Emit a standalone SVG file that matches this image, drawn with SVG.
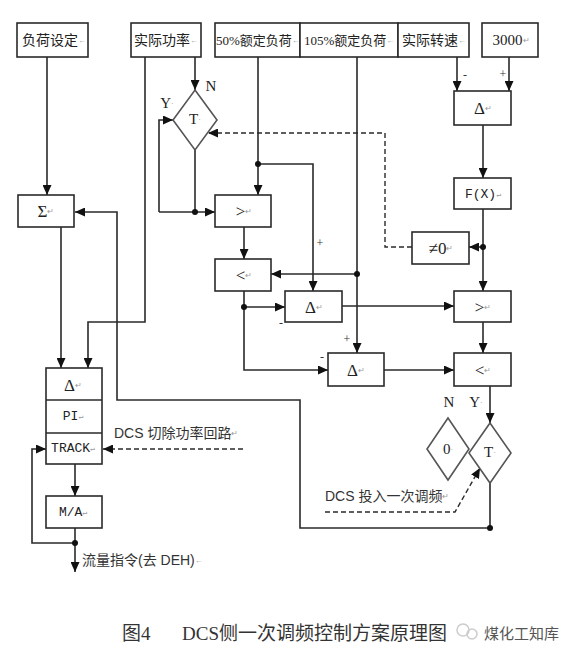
<svg xmlns="http://www.w3.org/2000/svg" width="562" height="657" viewBox="0 0 562 657">
<style>
.box{fill:#fff;stroke:#2a2a2a;stroke-width:1.6}
.dia{fill:#fff;stroke:#555;stroke-width:1.6}
.ln{fill:none;stroke:#2a2a2a;stroke-width:1.6}
.dash{fill:none;stroke:#2a2a2a;stroke-width:1.4;stroke-dasharray:5 3}
.dot{fill:#111}
.t{font-family:"Liberation Serif","Noto Sans CJK SC",serif;font-size:15px;fill:#222;text-anchor:middle;dominant-baseline:central}
.g{font-size:17px}
.h{font-family:"Liberation Serif","Noto Sans CJK SC",serif;font-size:14px;fill:#222;dominant-baseline:central}
.h13{font-size:13px}
.m{font-family:"Liberation Mono",monospace;font-size:13px;fill:#222;text-anchor:middle;dominant-baseline:central}
.c{font-family:"Liberation Sans","Noto Sans CJK SC",sans-serif;font-size:14px;fill:#333;dominant-baseline:central}
.s{font-family:"Liberation Serif",serif;font-size:12px;fill:#333;text-anchor:middle;dominant-baseline:central}
.rm{fill:#999;font-size:8px}
.cap{font-family:"Liberation Serif","Noto Sans CJK SC",serif;font-size:19px;fill:#333;dominant-baseline:central}
</style>
<defs>
<marker id="ah" markerUnits="userSpaceOnUse" markerWidth="10" markerHeight="9" refX="10" refY="4.5" orient="auto">
<path d="M0,0 L10,4.5 L0,9 z" fill="#111"/>
</marker>
</defs>

<g id="connectors">
<path class="ln" d="M47,57 V195" marker-end="url(#ah)"/>
<path class="ln" d="M145,57 V322 H88 V368" marker-end="url(#ah)"/>
<path class="ln" d="M195,57 V90" marker-end="url(#ah)"/>
<path class="ln" d="M258,57 V195" marker-end="url(#ah)"/>
<path class="ln" d="M258,164 H313 V291" marker-end="url(#ah)"/>
<path class="ln" d="M357,57 V353" marker-end="url(#ah)"/>
<path class="ln" d="M357,274 H271" marker-end="url(#ah)"/>
<path class="ln" d="M457,57 V91" marker-end="url(#ah)"/>
<path class="ln" d="M509,57 V91" marker-end="url(#ah)"/>
<path class="ln" d="M483,125 V178" marker-end="url(#ah)"/>
<path class="ln" d="M483,209 V291" marker-end="url(#ah)"/>
<path class="ln" d="M483,247 H469" marker-end="url(#ah)"/>
<path class="dash" d="M412,247 H385 V133 H208" marker-end="url(#ah)"/>
<path class="ln" d="M195,150 V212"/>
<path class="ln" d="M159,212 H215" marker-end="url(#ah)"/>
<path class="ln" d="M159,212 V120 H173" marker-end="url(#ah)"/>
<path class="ln" d="M244,227 V259" marker-end="url(#ah)"/>
<path class="ln" d="M244,291 V370 H328" marker-end="url(#ah)"/>
<path class="ln" d="M244,307 H285" marker-end="url(#ah)"/>
<path class="ln" d="M342,306 H454" marker-end="url(#ah)"/>
<path class="ln" d="M384,370 H454" marker-end="url(#ah)"/>
<path class="ln" d="M483,322 V353" marker-end="url(#ah)"/>
<path class="ln" d="M490,386 V423" marker-end="url(#ah)"/>
<path class="ln" d="M490,483 V528 H300 V400 H117 V212 H75" marker-end="url(#ah)"/>
<path class="ln" d="M61,227 V368" marker-end="url(#ah)"/>
<path class="ln" d="M75,464 V496" marker-end="url(#ah)"/>
<path class="ln" d="M75,528 V572" marker-end="url(#ah)"/>
<path class="ln" d="M75,543 H32 V449 H46" marker-end="url(#ah)"/>
<path class="dash" d="M243,449 H103" marker-end="url(#ah)"/>
<path class="dash" d="M325,512 H455 L480,468" marker-end="url(#ah)"/>
<circle class="dot" cx="258" cy="164" r="3"/>
<circle class="dot" cx="357" cy="274" r="3"/>
<circle class="dot" cx="483" cy="247" r="3"/>
<circle class="dot" cx="195" cy="212" r="3"/>
<circle class="dot" cx="244" cy="307" r="3"/>
<circle class="dot" cx="490" cy="528" r="3"/>
<circle class="dot" cx="75" cy="543" r="3"/>
</g>

<g id="load-set"><rect class="box" x="17" y="23" width="71" height="34"/><text class="h" x="22" y="40">负荷设定<tspan class="rm">←</tspan></text></g>
<g id="actual-power"><rect class="box" x="131" y="23" width="70" height="34"/><text class="h" x="134" y="40">实际功率<tspan class="rm">←</tspan></text></g>
<g id="load-50"><rect class="box" x="215" y="23" width="85" height="34"/><text class="h h13" x="216" y="40">50%额定负荷<tspan class="rm">←</tspan></text></g>
<g id="load-105"><rect class="box" x="300" y="23" width="98" height="34"/><text class="h h13" x="304" y="40">105%额定负荷<tspan class="rm">←</tspan></text></g>
<g id="actual-speed"><rect class="box" x="398" y="23" width="71" height="34"/><text class="h" x="402" y="40">实际转速<tspan class="rm">←</tspan></text></g>
<g id="n3000"><rect class="box" x="482" y="23" width="56" height="34"/><text class="t" x="511" y="40">3000<tspan class="rm">↵</tspan></text></g>

<g id="delta-speed"><rect class="box" x="454" y="91" width="57" height="34"/><text class="t g" x="483" y="108">Δ<tspan class="rm">↵</tspan></text>
<text class="s" x="465" y="75">-</text><text class="s" x="503" y="74">+</text></g>
<g id="fx"><rect class="box" x="454" y="178" width="57" height="31"/><text class="m" x="483" y="194">F(X)<tspan class="rm">↵</tspan></text></g>
<g id="neq0"><rect class="box" x="412" y="232" width="57" height="32"/><text class="t g" x="441" y="248">≠0<tspan class="rm">↵</tspan></text></g>

<g id="switch-T1"><polygon class="dia" points="195,90 217,120 195,150 173,120"/><text class="t" x="195" y="119">T<tspan class="rm">·</tspan></text>
<text class="t" x="211" y="86">N</text><text class="t" x="167" y="103">Y<tspan class="rm">·</tspan></text></g>

<g id="sigma"><rect class="box" x="18" y="195" width="56" height="32"/><text class="t g" x="46" y="211">Σ<tspan class="rm">↵</tspan></text></g>
<g id="gt1"><rect class="box" x="215" y="195" width="56" height="32"/><text class="t g" x="244" y="211">&gt;<tspan class="rm">↵</tspan></text></g>
<g id="lt1"><rect class="box" x="215" y="259" width="56" height="32"/><text class="t g" x="244" y="275">&lt;<tspan class="rm">↵</tspan></text></g>
<g id="delta1"><rect class="box" x="285" y="291" width="57" height="31"/><text class="t g" x="314" y="307">Δ<tspan class="rm">↵</tspan></text>
<text class="s" x="320" y="243">+</text><text class="s" x="281" y="323">-</text></g>
<g id="delta2"><rect class="box" x="328" y="353" width="56" height="33"/><text class="t g" x="356" y="370">Δ<tspan class="rm">↵</tspan></text>
<text class="s" x="347" y="339">+</text><text class="s" x="322" y="357">-</text></g>
<g id="gt2"><rect class="box" x="454" y="291" width="57" height="31"/><text class="t g" x="483" y="307">&gt;<tspan class="rm">↵</tspan></text></g>
<g id="lt2"><rect class="box" x="454" y="353" width="57" height="33"/><text class="t g" x="483" y="370">&lt;<tspan class="rm">↵</tspan></text></g>

<g id="zero"><polygon class="dia" points="448,418 469,449 448,480 427,449"/><text class="t" x="448" y="449">0<tspan class="rm">·</tspan></text><text class="t" x="449" y="402">N</text></g>
<g id="switch-T2"><polygon class="dia" points="490,423 511,453 490,483 469,453"/><text class="t" x="490" y="452">T<tspan class="rm">·</tspan></text><text class="t" x="476" y="402">Y<tspan class="rm">·</tspan></text></g>
<g id="label-in"><text class="c" x="325" y="496">DCS 投入一次调频<tspan class="rm">↵</tspan></text></g>

<g id="pi-stack"><rect class="box" x="46" y="368" width="56" height="96"/>
<line class="ln" x1="46" y1="400" x2="102" y2="400"/><line class="ln" x1="46" y1="433" x2="102" y2="433"/>
<text class="t g" x="73" y="385">Δ<tspan class="rm">↵</tspan></text>
<text class="m" x="73" y="416">PI<tspan class="rm">↵</tspan></text>
<text class="m" x="73" y="448">TRACK<tspan class="rm">↵</tspan></text></g>
<g id="label-cut"><text class="c" x="114" y="433">DCS 切除功率回路<tspan class="rm">↵</tspan></text></g>
<g id="ma"><rect class="box" x="46" y="496" width="56" height="32"/><text class="m" x="73" y="512">M/A<tspan class="rm">↵</tspan></text></g>
<g id="output"><text class="c" x="82" y="560">流量指令(去 DEH)<tspan class="rm">←</tspan></text></g>

<g id="caption">
<text class="cap" x="122" y="633">图4</text>
<text class="cap" x="182" y="633">DCS侧一次调频控制方案原理图</text>
<circle cx="463" cy="630" r="6" fill="none" stroke="#ccc" stroke-width="1.5"/>
<circle cx="472" cy="634" r="5" fill="none" stroke="#ccc" stroke-width="1.5"/>
<text class="c" x="484" y="633" style="font-size:15px;fill:#555">煤化工知库</text>
</g>
</svg>
